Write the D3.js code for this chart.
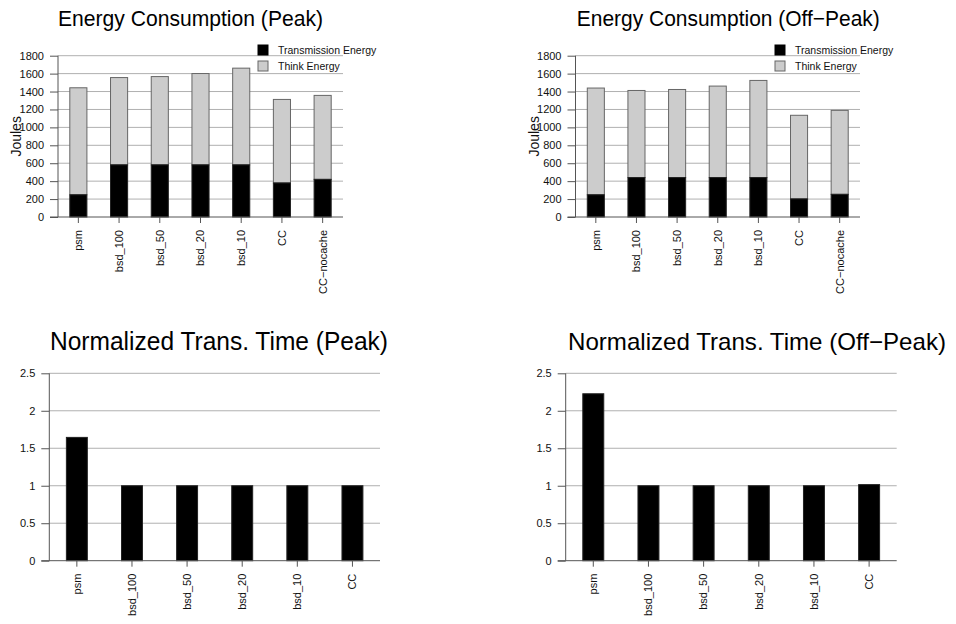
<!DOCTYPE html>
<html>
<head>
<meta charset="utf-8">
<script src="https://cdn.jsdelivr.net/npm/d3@7"></script>
<style>
  html, body { margin: 0; padding: 0; background: #fff; }
  svg { display: block; font-family: "Liberation Sans", Arial, Helvetica, sans-serif; }
</style>
</head>
<body>
<svg id="chart" width="956" height="624"></svg>
<script>
// ---- Data ----
const energyCategories = ["psm", "bsd_100", "bsd_50", "bsd_20", "bsd_10", "CC", "CC\u2212nocache"];
const peakTransmission = [248, 582, 582, 582, 582, 380, 420];
const peakTotal        = [1442, 1556, 1567, 1601, 1661, 1312, 1357];
const offTransmission  = [248, 440, 440, 440, 440, 202, 253];
const offTotal         = [1439, 1412, 1423, 1461, 1524, 1135, 1190];
const energyTicks = [0, 200, 400, 600, 800, 1000, 1200, 1400, 1600, 1800];

const timeCategories = ["psm", "bsd_100", "bsd_50", "bsd_20", "bsd_10", "CC"];
const peakTime = [1.645, 1.0, 1.0, 1.0, 1.0, 1.0];
const offTime  = [2.227, 1.0, 1.0, 1.0, 1.0, 1.015];
const timeTicks = [0, 0.5, 1, 1.5, 2, 2.5];
const timeTickLabels = ["0", "0.5", "1", "1.5", "2", "2.5"];

const legendLabels = ["Transmission Energy", "Think Energy"];

const svg = d3.select("#chart");
const GRID = "#b0b0b0", AXIS = "#555", THINK = "#cccccc", EDGE = "#666";

function panel(opts) {
  const g = svg.append("g");
  const x = d3.scaleBand().domain(opts.cats).range([opts.x0, opts.x1])
    .paddingInner(opts.pad).paddingOuter(opts.pad / 2);
  const y = d3.scaleLinear().domain([0, opts.ymax]).range([opts.yb, opts.yt]);

  // gridlines
  g.selectAll(".grid").data(opts.ticks.filter(t => t > 0)).join("line")
    .attr("x1", opts.x0).attr("x2", opts.x1)
    .attr("y1", d => y(d)).attr("y2", d => y(d))
    .attr("stroke", GRID).attr("stroke-width", 1);

  // bars
  opts.drawBars(g, x, y);

  // y axis
  const yAxis = d3.axisLeft(y).tickValues(opts.ticks).tickSize(8).tickPadding(6)
    .tickFormat((d, i) => opts.tickLabels[i]);
  const ya = g.append("g").attr("transform", `translate(${opts.x0},0)`).call(yAxis);
  ya.select(".domain").attr("stroke", AXIS).attr("d", `M0,${opts.yb}V${opts.yt}`);
  ya.selectAll(".tick line").attr("stroke", AXIS);
  ya.selectAll("text").attr("font-size", 11).attr("fill", "#111")
    .attr("font-family", "Liberation Sans, Arial, sans-serif");

  // x axis baseline (extends left to tick start)
  g.append("line").attr("x1", opts.x0 - 8).attr("x2", opts.x1)
    .attr("y1", opts.yb).attr("y2", opts.yb).attr("stroke", AXIS);
  // x ticks
  g.selectAll(".xt").data(opts.cats).join("line")
    .attr("x1", d => x(d) + x.bandwidth() / 2).attr("x2", d => x(d) + x.bandwidth() / 2)
    .attr("y1", opts.yb).attr("y2", opts.yb + 6).attr("stroke", AXIS);
  // x labels
  g.selectAll(".xl").data(opts.cats).join("text")
    .attr("transform", d => `translate(${x(d) + x.bandwidth() / 2},${opts.yb + 13}) rotate(-90)`)
    .attr("text-anchor", "end").attr("dy", "0.35em")
    .attr("font-size", 11).attr("fill", "#111").text(d => d);

  // title
  g.append("text").attr("x", opts.tx).attr("y", opts.ty).attr("text-anchor", "middle")
    .attr("font-size", opts.tfs).attr("fill", "#000")
    .attr("textLength", opts.tw).attr("lengthAdjust", "spacingAndGlyphs")
    .text(opts.title);

  if (opts.ylabel) {
    g.append("text")
      .attr("transform", `translate(${opts.x0 - 37},${(opts.yb + opts.yt) / 2}) rotate(-90)`)
      .attr("text-anchor", "middle").attr("font-size", 14).attr("fill", "#111").text(opts.ylabel);
  }
  if (opts.legendX !== undefined) {
    const lg = g.append("g");
    const fills = ["#000", THINK];
    legendLabels.forEach((lab, i) => {
      lg.append("rect").attr("x", opts.legendX).attr("y", 45 + i * 16)
        .attr("width", 10).attr("height", 10)
        .attr("fill", fills[i]).attr("stroke", i === 0 ? "#000" : EDGE);
      lg.append("text").attr("x", opts.legendX + 20).attr("y", 54 + i * 16)
        .attr("font-size", 10.5).attr("fill", "#111").text(lab);
    });
  }
}

function stackedBars(trans, total) {
  return (g, x, y) => {
    const cats = x.domain();
    g.selectAll(".think").data(cats).join("rect")
      .attr("x", d => x(d)).attr("width", x.bandwidth())
      .attr("y", (d, i) => y(total[i])).attr("height", (d, i) => y(trans[i]) - y(total[i]))
      .attr("fill", THINK).attr("stroke", EDGE).attr("stroke-width", 1);
    g.selectAll(".trans").data(cats).join("rect")
      .attr("x", d => x(d)).attr("width", x.bandwidth())
      .attr("y", (d, i) => y(trans[i])).attr("height", (d, i) => y(0) - y(trans[i]))
      .attr("fill", "#000").attr("stroke", "#222").attr("stroke-width", 1);
  };
}
function simpleBars(vals) {
  return (g, x, y) => {
    g.selectAll(".b").data(x.domain()).join("rect")
      .attr("x", d => x(d)).attr("width", x.bandwidth())
      .attr("y", (d, i) => y(vals[i])).attr("height", (d, i) => y(0) - y(vals[i]))
      .attr("fill", "#000").attr("stroke", "#222").attr("stroke-width", 1);
  };
}

const energyLabels = energyTicks.map(String);

panel({ cats: energyCategories, x0: 58, x1: 343, yb: 217, yt: 55.7, ymax: 1800, pad: 0.58,
  ticks: energyTicks, tickLabels: energyLabels, title: "Energy Consumption (Peak)",
  tx: 190.5, ty: 26, tw: 265, tfs: 22, ylabel: "Joules", legendX: 258,
  drawBars: stackedBars(peakTransmission, peakTotal) });

panel({ cats: energyCategories, x0: 575.5, x1: 860, yb: 217, yt: 55.7, ymax: 1800, pad: 0.58,
  ticks: energyTicks, tickLabels: energyLabels, title: "Energy Consumption (Off\u2212Peak)",
  tx: 728.3, ty: 26, tw: 303, tfs: 22, ylabel: "Joules", legendX: 775,
  drawBars: stackedBars(offTransmission, offTotal) });

panel({ cats: timeCategories, x0: 49.3, x1: 380, yb: 560.7, yt: 373.3, ymax: 2.5, pad: 0.62,
  ticks: timeTicks, tickLabels: timeTickLabels, title: "Normalized Trans. Time (Peak)",
  tx: 219, ty: 350, tw: 338, tfs: 25,
  drawBars: simpleBars(peakTime) });

panel({ cats: timeCategories, x0: 565.7, x1: 896.7, yb: 560.7, yt: 373.3, ymax: 2.5, pad: 0.62,
  ticks: timeTicks, tickLabels: timeTickLabels, title: "Normalized Trans. Time (Off\u2212Peak)",
  tx: 757, ty: 350, tw: 378, tfs: 24,
  drawBars: simpleBars(offTime) });
</script>
</body>
</html>
